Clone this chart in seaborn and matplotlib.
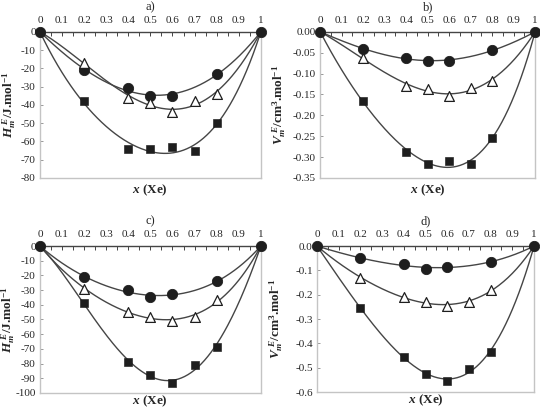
import numpy as np
import pandas as pd
import matplotlib
matplotlib.use("Agg")
import matplotlib.pyplot as plt
from matplotlib.ticker import MultipleLocator, FuncFormatter
import seaborn as sns

# compositions
x_all = [0.0, 0.2, 0.4, 0.5, 0.6, 0.7, 0.8, 1.0]
x_circ = [0.0, 0.2, 0.4, 0.5, 0.6, 0.8, 1.0]

# panel a) H excess, J/mol
a_circ = [0, -21, -31, -35, -35, -23, 0]
a_tri = [0, -17, -36, -39, -44, -38, -34, 0]
a_sq = [0, -38, -64, -64, -63, -65, -50, 0]

# panel b) V excess, cm3/mol
b_circ = [0, -0.041, -0.063, -0.069, -0.069, -0.044, 0]
b_tri = [0, -0.063, -0.130, -0.136, -0.153, -0.135, -0.117, 0]
b_sq = [0, -0.165, -0.289, -0.316, -0.310, -0.317, -0.254, 0]

# panel c) H excess, J/mol
c_circ = [0, -21, -30, -35, -33, -24, 0]
c_tri = [0, -29, -45, -48, -51, -48, -37, 0]
c_sq = [0, -39, -79, -88, -93, -81, -69, 0]

# panel d) V excess, cm3/mol
d_circ = [0, -0.050, -0.075, -0.095, -0.085, -0.065, 0]
d_tri = [0, -0.130, -0.210, -0.230, -0.245, -0.230, -0.180, 0]
d_sq = [0, -0.255, -0.455, -0.525, -0.555, -0.505, -0.435, 0]

titles = ["a)", "b)", "c)", "d)"]
ylims = [(-80, 0), (-0.35, 0), (-100, 0), (-0.6, 0)]
ysteps = [10, 0.05, 10, 0.1]
yfmt = ["{:.0f}", "{:.2f}", "{:.0f}", "{:.1f}"]
ylabels = [r"$H_m^{\ E}$/J.mol$^{-1}$", r"$V_m^{\ E}$/cm$^{3}$.mol$^{-1}$",
           r"$H_m^{\ E}$/J.mol$^{-1}$", r"$V_m^{\ E}$/cm$^{3}$.mol$^{-1}$"]
panels = [(a_circ, a_tri, a_sq), (b_circ, b_tri, b_sq),
          (c_circ, c_tri, c_sq), (d_circ, d_tri, d_sq)]

sns.set_theme(style="white")
plt.rcParams["font.family"] = ["Liberation Serif", "DejaVu Serif"]
plt.rcParams["mathtext.fontset"] = "custom"
plt.rcParams["mathtext.it"] = "Liberation Serif:italic:bold"
plt.rcParams["mathtext.rm"] = "Liberation Serif:bold"
plt.rcParams["mathtext.bf"] = "Liberation Serif:bold"
plt.rcParams["axes.unicode_minus"] = False

LINE = "#454545"
MARK = "#1e1e1e"
FRAME = "#c4c4c4"


def rk_fit(x, y, xs):
    # Redlich-Kister fit, 3 terms
    x = np.asarray(x, float)
    y = np.asarray(y, float)
    m = (x > 0) & (x < 1)
    z = 2 * x[m] - 1
    A = np.column_stack([x[m] * (1 - x[m]) * z**k for k in range(3)])
    coef, *_ = np.linalg.lstsq(A, y[m], rcond=None)
    zs = 2 * xs - 1
    return xs * (1 - xs) * sum(c * zs**k for k, c in enumerate(coef))


fig = plt.figure(figsize=(5.4, 4.08), dpi=100)
rects = [[0.074, 0.564, 0.409, 0.358], [0.593, 0.564, 0.398, 0.358],
         [0.074, 0.037, 0.409, 0.360], [0.587, 0.039, 0.402, 0.358]]
ylab_x = [-0.10, -0.15, -0.105, -0.147]
xlab_y = [-0.035, -0.035, -0.004, -0.004]
xs = np.linspace(0, 1, 201)

for i, (circ, tri, sq) in enumerate(panels):
    ax = fig.add_axes(rects[i])
    for xd, yd in [(x_circ, circ), (x_all, tri), (x_all, sq)]:
        curve = pd.DataFrame({"x": xs, "y": rk_fit(xd, yd, xs)})
        sns.lineplot(data=curve, x="x", y="y", ax=ax, color=LINE, lw=1.0, zorder=2)
    sns.scatterplot(x=x_circ, y=circ, ax=ax, marker="o", s=55, color=MARK,
                    edgecolor=MARK, zorder=4, clip_on=False)
    sns.scatterplot(x=x_all[1:-1], y=tri[1:-1], ax=ax, marker="^", s=50,
                    facecolor="white", edgecolor=MARK, linewidth=0.9, zorder=4, clip_on=False)
    sns.scatterplot(x=x_all[1:-1], y=sq[1:-1], ax=ax, marker="s", s=30, color=MARK,
                    edgecolor=MARK, zorder=4, clip_on=False)

    ax.set_xlim(0, 1)
    ax.set_ylim(*ylims[i])
    ax.xaxis.tick_top()
    ax.xaxis.set_major_locator(MultipleLocator(0.1))
    ax.xaxis.set_minor_locator(MultipleLocator(0.05))
    ax.xaxis.set_major_formatter(FuncFormatter(lambda v, p: "{:g}".format(round(v, 2))))
    ax.yaxis.set_major_locator(MultipleLocator(ysteps[i]))
    f = yfmt[i]
    ax.yaxis.set_major_formatter(FuncFormatter(lambda v, p, f=f: f.format(v + 0.0) if abs(v) > 1e-9 else f.format(0.0)))
    ax.tick_params(axis="x", which="both", direction="in", top=True, bottom=False,
                   length=3, width=0.7, color=LINE, labelsize=8, pad=5)
    ax.tick_params(axis="y", direction="in", left=True, length=2.5, width=0.6,
                   color="#888888", labelsize=8, pad=3)
    for side in ["left", "right", "bottom"]:
        ax.spines[side].set_color(FRAME)
        ax.spines[side].set_linewidth(1.0)
    ax.spines["top"].set_color(LINE)
    ax.spines["top"].set_linewidth(1.0)

    ax.xaxis.set_label_position("bottom")
    ax.set_xlabel(r"$x$ (Xe)", fontsize=9.5, fontweight="bold")
    ax.xaxis.set_label_coords(0.5, xlab_y[i])
    ax.set_ylabel(ylabels[i], fontsize=9.5, fontweight="bold")
    ax.yaxis.set_label_coords(ylab_x[i], 0.5)
    ax.set_title(titles[i], fontsize=9, pad=4)

fig.savefig("out.png", dpi=100)
